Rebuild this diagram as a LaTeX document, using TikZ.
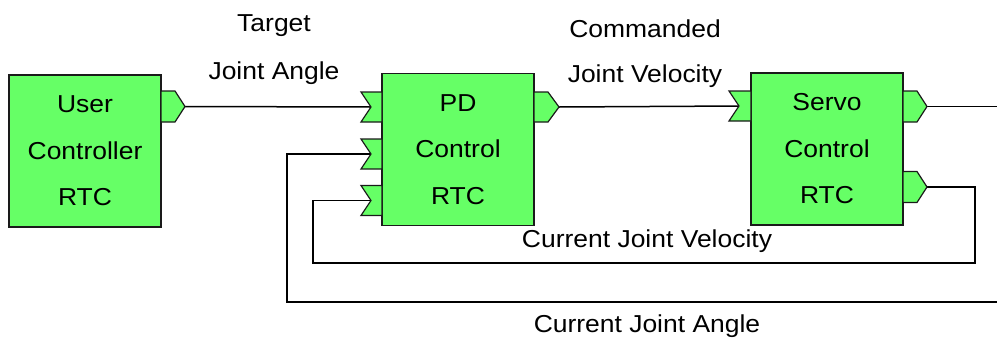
\documentclass[tikz,border=0pt]{standalone}
\usepackage{fontspec}
\setmainfont{Liberation Sans}
\newfontfamily\widesans[FakeStretch=1.08]{Liberation Sans}
\definecolor{boxgreen}{HTML}{66FF66}
\definecolor{edge}{HTML}{1A1A1A}
\tikzset{
  rtcbox/.style={draw=edge, line width=1.4pt, fill=boxgreen, minimum width=152pt, minimum height=152pt, inner sep=0pt, align=center, font=\widesans\fontsize{24.5}{46.5}\selectfont},
  port/.style={draw=edge, line width=1.2pt, fill=boxgreen, line join=miter},
  wire/.style={draw=black, line width=1.5pt},
  lbl/.style={font=\widesans\fontsize{24.5}{24}\selectfont, inner sep=0pt}
}
\begin{document}
\begin{tikzpicture}[x=1pt,y=-1pt]
\useasboundingbox (0,0) rectangle (997,338);
% boxes
\node[rtcbox] (user) at (85,151) {User\\Controller\\RTC};
\node[rtcbox] (pd) at (458,149.5) {PD\\Control\\RTC};
\node[rtcbox] (servo) at (827,149) {Servo\\Control\\RTC};
% port coordinates
\coordinate (uout) at (185,106.5);
\coordinate (pdin1) at (371,107);
\coordinate (pdin2) at (371,154);
\coordinate (pdin3) at (371,200.5);
\coordinate (pdout) at (559,107);
\coordinate (svin) at (739,106);
\coordinate (svout1) at (927,106.5);
\coordinate (svout2) at (927,187);
\coordinate (rightA) at (997,106.5);
\coordinate (rightB) at (997,302);
\coordinate (c1) at (975,187);
\coordinate (c2) at (975,263);
\coordinate (c3) at (313,263);
\coordinate (c4) at (313,200.5);
\coordinate (d1) at (287,302);
\coordinate (d2) at (287,154);
% wires
\draw[wire] (uout) -- (pdin1);
\draw[wire] (pdout) -- (svin);
\draw[wire] (svout1) -- (rightA);
\draw[wire] (svout2) -- (c1) -- (c2) -- (c3) -- (c4) -- (pdin3);
\draw[wire] (rightB) -- (d1) -- (d2) -- (pdin2);
% output ports
\draw[port] (161,91) -- (175,91) -- (uout) -- (175,122) -- (161,122) -- cycle;
\draw[port] (534,92) -- (548,92) -- (pdout) -- (548,122) -- (534,122) -- cycle;
\draw[port] (903,91) -- (917,91) -- (svout1) -- (917,122) -- (903,122) -- cycle;
\draw[port] (903,171.5) -- (917,171.5) -- (svout2) -- (917,202.5) -- (903,202.5) -- cycle;
% input ports
\draw[port] (361,92) -- (382,92) -- (382,122) -- (361,122) -- (pdin1) -- cycle;
\draw[port] (361,139) -- (382,139) -- (382,169) -- (361,169) -- (pdin2) -- cycle;
\draw[port] (361,185.5) -- (382,185.5) -- (382,215.5) -- (361,215.5) -- (pdin3) -- cycle;
\draw[port] (729,91) -- (751,91) -- (751,121) -- (729,121) -- (svin) -- cycle;
% labels
\node[lbl] (t1) at (274,26) {Target};
\node[lbl] (t2) at (274,73) {Joint Angle};
\node[lbl] (t3) at (645,29) {Commanded};
\node[lbl] (t4) at (645,76) {Joint Velocity};
\node[lbl] (t5) at (647,241) {Current Joint Velocity};
\node[lbl] (t6) at (647,326) {Current Joint Angle};
\end{tikzpicture}
\end{document}
